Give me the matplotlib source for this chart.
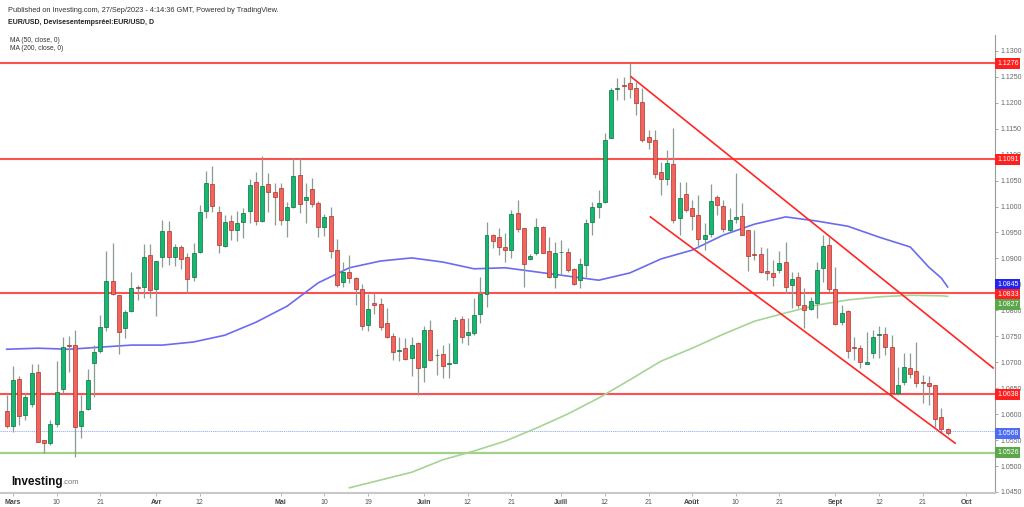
import numpy as np
import matplotlib
matplotlib.use("Agg")
import matplotlib.pyplot as plt
import matplotlib.transforms as mtransforms

plt.rcParams['font.family'] = ['Liberation Sans', 'DejaVu Sans']

# daily candles, index 0 = 28 Feb 2023 (trading days)
opens = [1.0606, 1.0577, 1.0668, 1.0598, 1.0619, 1.0681, 1.0550, 1.0544, 1.0581, 1.0648,
         1.0733, 1.0733, 1.0577, 1.0610, 1.0698, 1.0722, 1.0768, 1.0857, 1.0830, 1.0766,
         1.0799, 1.0845, 1.0845, 1.0907, 1.0841, 1.0903, 1.0953, 1.0903, 1.0922, 1.0903,
         1.0864, 1.0912, 1.0991, 1.1043, 1.0989, 1.0924, 1.0972, 1.0955, 1.0970, 1.0991,
         1.1047, 1.0972, 1.1043, 1.1028, 1.1036, 1.0974, 1.0999, 1.1061, 1.1013, 1.1034,
         1.1007, 1.0961, 1.0982, 1.0916, 1.0855, 1.0874, 1.0862, 1.0841, 1.0772, 1.0814,
         1.0812, 1.0776, 1.0751, 1.0722, 1.0727, 1.0708, 1.0737, 1.0691, 1.0762, 1.0714,
         1.0716, 1.0697, 1.0698, 1.0783, 1.0752, 1.0756, 1.0793, 1.0831, 1.0945, 1.0941,
         1.0922, 1.0916, 1.0988, 1.0959, 1.0899, 1.0910, 1.0961, 1.0914, 1.0864, 1.0912,
         1.0912, 1.0880, 1.0858, 1.0887, 1.0970, 1.0999, 1.1009, 1.1132, 1.1226, 1.1234,
         1.1238, 1.1228, 1.1201, 1.1134, 1.1128, 1.1067, 1.1053, 1.1082, 1.0978, 1.1024,
         1.0997, 1.0984, 1.0937, 1.0947, 1.1018, 1.1001, 1.0955, 1.0976, 1.0982, 1.0955,
         1.0909, 1.0909, 1.0876, 1.0872, 1.0878, 1.0893, 1.0849, 1.0864, 1.0810, 1.0803,
         1.0814, 1.0882, 1.0926, 1.0841, 1.0777, 1.0799, 1.0729, 1.0727, 1.0697, 1.0718,
         1.0752, 1.0754, 1.0729, 1.0641, 1.0662, 1.0689, 1.0683, 1.0662, 1.0660, 1.0656,
         1.0594, 1.0571]
highs = [1.0637, 1.0693, 1.0673, 1.0641, 1.0697, 1.0697, 1.0551, 1.0589, 1.0702, 1.0749,
         1.0751, 1.0762, 1.0637, 1.0687, 1.0733, 1.0791, 1.0914, 1.0930, 1.0830, 1.0801,
         1.0874, 1.0849, 1.0928, 1.0928, 1.0895, 1.0974, 1.0972, 1.0928, 1.0926, 1.0910,
         1.0930, 1.1003, 1.1068, 1.1078, 1.1001, 1.0984, 1.0984, 1.0991, 1.0997, 1.1053,
         1.1067, 1.1097, 1.1065, 1.1045, 1.1045, 1.1009, 1.1094, 1.1094, 1.1045, 1.1055,
         1.1011, 1.0986, 1.0999, 1.0937, 1.0893, 1.0907, 1.0864, 1.0851, 1.0831, 1.0833,
         1.0824, 1.0804, 1.0756, 1.0749, 1.0747, 1.0749, 1.0739, 1.0770, 1.0781, 1.0725,
         1.0733, 1.0737, 1.0787, 1.0789, 1.0785, 1.0824, 1.0864, 1.0970, 1.0947, 1.0959,
         1.0949, 1.0993, 1.1013, 1.0959, 1.0909, 1.0978, 1.0963, 1.0941, 1.0932, 1.0936,
         1.0920, 1.0882, 1.0901, 1.0976, 1.1009, 1.1032, 1.1142, 1.1228, 1.1248, 1.1250,
         1.1276, 1.1240, 1.1228, 1.1147, 1.1147, 1.1086, 1.1109, 1.1151, 1.1047, 1.1047,
         1.1013, 1.1022, 1.0968, 1.1043, 1.1022, 1.1013, 1.0997, 1.1065, 1.1007, 1.0955,
         1.0955, 1.0922, 1.0920, 1.0897, 1.0914, 1.0932, 1.0874, 1.0874, 1.0843, 1.0826,
         1.0893, 1.0945, 1.0941, 1.0883, 1.0810, 1.0801, 1.0749, 1.0733, 1.0758, 1.0762,
         1.0770, 1.0768, 1.0752, 1.0691, 1.0718, 1.0718, 1.0739, 1.0675, 1.0673, 1.0656,
         1.0612, 1.0573]
lows = [1.0573, 1.0566, 1.0579, 1.0589, 1.0614, 1.0546, 1.0525, 1.0540, 1.0575, 1.0641,
        1.0681, 1.0517, 1.0554, 1.0608, 1.0633, 1.0718, 1.0760, 1.0830, 1.0716, 1.0747,
        1.0797, 1.0820, 1.0824, 1.0824, 1.0789, 1.0883, 1.0887, 1.0885, 1.0880, 1.0833,
        1.0857, 1.0910, 1.0978, 1.0989, 1.0910, 1.0922, 1.0936, 1.0934, 1.0939, 1.0968,
        1.0964, 1.0970, 1.0989, 1.0964, 1.0964, 1.0941, 1.0997, 1.0988, 1.0968, 1.0999,
        1.0941, 1.0943, 1.0901, 1.0845, 1.0845, 1.0853, 1.0810, 1.0762, 1.0760, 1.0793,
        1.0762, 1.0747, 1.0704, 1.0702, 1.0704, 1.0673, 1.0637, 1.0662, 1.0702, 1.0675,
        1.0670, 1.0670, 1.0698, 1.0737, 1.0733, 1.0752, 1.0776, 1.0806, 1.0920, 1.0907,
        1.0893, 1.0901, 1.0951, 1.0845, 1.0897, 1.0907, 1.0910, 1.0862, 1.0843, 1.0868,
        1.0874, 1.0849, 1.0843, 1.0864, 1.0945, 1.0978, 1.1007, 1.1132, 1.1205, 1.1205,
        1.1209, 1.1176, 1.1124, 1.1111, 1.1055, 1.1022, 1.1041, 1.0968, 1.0945, 1.0989,
        1.0955, 1.0920, 1.0916, 1.0941, 1.0984, 1.0951, 1.0951, 1.0968, 1.0945, 1.0876,
        1.0897, 1.0872, 1.0858, 1.0847, 1.0872, 1.0833, 1.0804, 1.0804, 1.0766, 1.0801,
        1.0785, 1.0855, 1.0835, 1.0772, 1.0772, 1.0708, 1.0704, 1.0689, 1.0697, 1.0708,
        1.0708, 1.0714, 1.0633, 1.0637, 1.0656, 1.0670, 1.0652, 1.0621, 1.0618, 1.0575,
        1.0564, 1.0560]
closes = [1.0577, 1.0666, 1.0596, 1.0633, 1.0679, 1.0547, 1.0544, 1.0581, 1.0643, 1.0729,
          1.0731, 1.0575, 1.0606, 1.0666, 1.0720, 1.0768, 1.0857, 1.0831, 1.0758, 1.0797,
          1.0843, 1.0843, 1.0903, 1.0839, 1.0895, 1.0953, 1.0903, 1.0922, 1.0899, 1.0860,
          1.0910, 1.0989, 1.1045, 1.1001, 1.0926, 1.0970, 1.0955, 1.0968, 1.0988, 1.1041,
          1.0972, 1.1040, 1.1028, 1.1018, 1.0974, 1.0999, 1.1059, 1.1005, 1.1018, 1.1005,
          1.0961, 1.0980, 1.0914, 1.0849, 1.0874, 1.0862, 1.0841, 1.0770, 1.0803, 1.0810,
          1.0768, 1.0749, 1.0720, 1.0724, 1.0706, 1.0733, 1.0689, 1.0762, 1.0704, 1.0714,
          1.0693, 1.0698, 1.0781, 1.0749, 1.0758, 1.0791, 1.0831, 1.0945, 1.0934, 1.0922,
          1.0916, 1.0986, 1.0957, 1.0889, 1.0905, 1.0961, 1.0910, 1.0864, 1.0910, 1.0912,
          1.0878, 1.0851, 1.0889, 1.0968, 1.0999, 1.1007, 1.1128, 1.1225, 1.1228, 1.1232,
          1.1226, 1.1200, 1.1128, 1.1124, 1.1063, 1.1053, 1.1084, 1.0974, 1.1016, 1.0993,
          1.0982, 1.0937, 1.0945, 1.1011, 1.1003, 1.0957, 1.0974, 1.0980, 1.0945, 1.0905,
          1.0907, 1.0874, 1.0872, 1.0864, 1.0891, 1.0845, 1.0860, 1.0810, 1.0801, 1.0818,
          1.0878, 1.0924, 1.0841, 1.0774, 1.0795, 1.0722, 1.0727, 1.0700, 1.0700, 1.0749,
          1.0754, 1.0729, 1.0641, 1.0656, 1.0691, 1.0677, 1.0660, 1.0660, 1.0654, 1.0591,
          1.0571, 1.0564]

# moving averages read at some candle indices
ma50_idx = [0, 5, 10, 15, 20, 25, 30, 35, 40, 45, 50, 55, 60, 65, 70, 75, 80, 85, 90, 95,
            100, 105, 110, 115, 120, 125, 130, 135, 140, 145, 148, 150, 151]
ma50 = [1.0725, 1.0727, 1.0725, 1.0729, 1.0733, 1.0733, 1.0739, 1.0752, 1.0777, 1.0808,
        1.0853, 1.0882, 1.0895, 1.0901, 1.0893, 1.0880, 1.0882, 1.0874, 1.0866, 1.0858,
        1.0872, 1.0899, 1.0916, 1.0945, 1.0966, 1.0980, 1.0972, 1.0962, 1.0941, 1.0922,
        1.0883, 1.0862, 1.0845]
ma200_idx = [55, 60, 65, 70, 75, 80, 85, 90, 95, 100, 105, 110, 115, 120, 125, 130, 135,
             140, 145, 150, 151]
ma200 = [1.0458, 1.0473, 1.0488, 1.0512, 1.0529, 1.0548, 1.0573, 1.0600, 1.0631, 1.0666,
         1.0702, 1.0727, 1.0754, 1.0779, 1.0795, 1.0810, 1.0820, 1.0826, 1.0829, 1.0828,
         1.0827]

red_levels = [1.1276, 1.1091, 1.0833, 1.0638]
green_level = 1.0526
last_price = 1.0568

# channel lines (start idx, start price, end idx, end price)
upper_channel = [100.2, 1.1250, 158.3, 1.0689]
lower_channel = [103.3, 1.0980, 152.2, 1.0544]

tick_pos = [1, 8, 15, 24, 31, 44, 51, 58, 67, 74, 81, 89, 96, 103, 110, 117, 124, 133, 140, 147, 154]
tick_labels = ['Mars', '10', '21', 'Avr', '12', 'Mai', '10', '19', 'Juin', '12', '21',
               'Juill', '12', '21', 'Août', '10', '21', 'Sept', '12', '21', 'Oct']
months = {'Mars', 'Avr', 'Mai', 'Juin', 'Juill', 'Août', 'Sept', 'Oct'}

GREEN = '#14b86e'
GREEN_EDGE = '#0c6e40'
RED = '#f2645c'
RED_EDGE = '#a8322c'
WICK = '#8c9c92'

fig = plt.figure(figsize=(10.24, 5.07), dpi=100)
ax = fig.add_axes([0, 14 / 507, 995 / 1024, 458 / 507])

x = np.arange(len(closes))
o = np.array(opens)
c = np.array(closes)
up = c >= o

ax.vlines(x, lows, highs, color=WICK, lw=0.9, zorder=3)
bottoms = np.minimum(o, c)
heights = np.maximum(np.abs(c - o), 0.00005)
ax.bar(x[up], heights[up], bottom=bottoms[up], width=0.64, color=GREEN,
       edgecolor=GREEN_EDGE, lw=0.5, zorder=4)
ax.bar(x[~up], heights[~up], bottom=bottoms[~up], width=0.64, color=RED,
       edgecolor=RED_EDGE, lw=0.5, zorder=4)

ax.plot(ma50_idx, ma50, color='#6b6bf2', lw=1.2, zorder=2)
ax.plot(ma200_idx, ma200, color='#a6d495', lw=1.2, zorder=2)

for lvl in red_levels:
    ax.axhline(lvl, color='#ff5050', lw=1.5, zorder=1)
ax.axhline(green_level, color='#9fd08c', lw=1.6, zorder=1)
ax.axhline(last_price, color='#8aa6ff', lw=0.6, ls=(0, (1.5, 1)), zorder=1)

for seg in (upper_channel, lower_channel):
    ax.plot([seg[0], seg[2]], [seg[1], seg[3]], color='#ff2626', lw=1.2, zorder=5)

ax.set_xlim(-1.07, 158.6)
ax.set_ylim(1.0448, 1.13305)

ax.spines['top'].set_visible(False)
ax.spines['left'].set_visible(False)
ax.spines['right'].set_color('#9a9a9a')
ax.spines['right'].set_linewidth(0.8)
ax.spines['bottom'].set_color('#c8c8c8')
ax.spines['bottom'].set_linewidth(1.5)

ax.yaxis.tick_right()
yt = np.arange(1.045, 1.1301, 0.005)
ax.set_yticks(yt)
ax.set_yticklabels(['%.4f' % v for v in yt])
ax.tick_params(axis='y', length=2, width=0.6, color='#9a9a9a', labelsize=5,
               labelcolor='#666666', pad=2)

ax.set_xticks(tick_pos)
ax.set_xticklabels(tick_labels)
ax.tick_params(axis='x', length=2, width=0.6, color='#aaaaaa', labelsize=5,
               labelcolor='#555555', pad=2)
for lab in ax.get_xticklabels():
    if lab.get_text() in months:
        lab.set_fontweight('bold')
        lab.set_color('#444444')

# price boxes on the right axis
trans = mtransforms.blended_transform_factory(ax.transAxes, ax.transData)
boxes = [(1.1276, '#ff1f1f', 0), (1.1091, '#ff1f1f', 0), (ma50[-1], '#2424f0', 2),
         (1.0833, '#ff1f1f', -1), (ma200[-1], '#5aa84a', -6), (1.0638, '#ff1f1f', 0),
         (last_price, '#4d6ef2', -2), (green_level, '#5aa84a', 0)]
for val, col, dy in boxes:
    ax.annotate('%.4f' % val, xy=(1.0, val), xycoords=trans, xytext=(1.5, dy),
                textcoords='offset points', fontsize=5, color='white', va='center',
                ha='left', zorder=10, annotation_clip=False,
                bbox=dict(boxstyle='square,pad=0.25', fc=col, ec='none'))

# header texts
fig.text(8 / 1024, 1 - 10 / 507, 'Published on Investing.com, 27/Sep/2023 - 4:14:36 GMT, Powered by TradingView.',
         fontsize=5.3, color='#333333', va='center')
fig.text(8 / 1024, 1 - 22 / 507, 'EUR/USD, Devisesentempsréel:EUR/USD, D',
         fontsize=5.0, fontweight='bold', color='#222222', va='center')
fig.text(10 / 1024, 1 - 40 / 507, 'MA (50, close, 0)', fontsize=4.8, color='#333333', va='center')
fig.text(10 / 1024, 1 - 48 / 507, 'MA (200, close, 0)', fontsize=4.8, color='#333333', va='center')

# logo
fig.text(11 / 1024, 1 - 482 / 507, 'Investing', fontsize=8.5, fontweight='bold',
         color='#111111', va='center')
fig.text(62 / 1024, 1 - 483 / 507, '.com', fontsize=5.5, color='#777777', va='center')

fig.savefig('out.png', dpi=100)
